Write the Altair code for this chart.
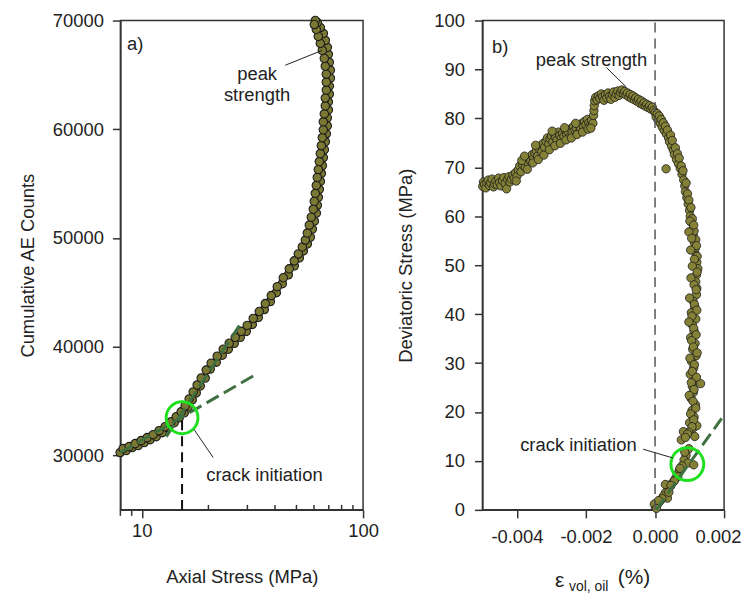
import altair as alt
import pandas as pd

FONT = "Liberation Sans"
FILL = "#858238"
FILL_A = "#7b7833"
EDGE = "#1c1c1c"
GREEN = "#1fe01f"
DGREEN = "#3f7040"
AXC = "#333333"
LFS = 18.5   # label font size
TFS = 18.5   # title font size

# ---------------- panel a) : cumulative AE counts vs axial stress ----------------
# centre of the band
axial_stress = [7.98, 8.49, 9.04, 9.62, 10.24, 10.90, 11.61, 12.35, 13.15, 14.00,
                14.75, 15.54, 16.20, 16.89, 17.61, 18.36, 19.34, 20.37, 21.69, 23.09,
                24.58, 26.16, 27.85, 29.65, 31.56, 33.60, 35.76, 38.07, 40.53, 43.14,
                45.92, 48.88, 51.50, 53.70, 55.98, 57.75, 58.97, 60.21, 61.48, 62.12,
                62.77, 63.43, 64.09, 64.76, 65.44, 66.12, 66.81, 67.51, 68.22, 68.93,
                68.93, 69.66, 69.66, 70.38, 70.38, 71.12, 71.12, 70.38, 69.66, 68.93,
                67.51, 66.12, 64.09, 62.12, 60.84]
ae_counts = [30274, 30457, 30731, 30913, 31187, 31461, 31735, 32100, 32557, 33014,
             33470, 33927, 34475, 35114, 35753, 36392, 37123, 37945, 38584, 39223,
             39771, 40319, 40867, 41415, 42054, 42693, 43424, 44155, 44976, 45798,
             46620, 47442, 48173, 48812, 49451, 50090, 50821, 51552, 52282, 53013,
             53743, 54474, 55204, 55935, 56665, 57396, 58127, 58857, 59588, 60318,
             61049, 61779, 62510, 63240, 63971, 64702, 65432, 66163, 66893, 67533,
             68172, 68811, 69359, 69816, 70000]
# upper-left edge of the band
axial_stress_2 = [8.23, 8.76, 9.33, 9.93, 10.57, 11.25, 11.97, 12.75, 13.57, 14.30,
                  15.06, 15.70, 16.37, 17.07, 17.79, 18.55, 19.54, 20.58, 21.92, 23.33,
                  24.83, 26.44, 28.14, 29.96, 31.89, 33.95, 36.14, 38.47, 40.95, 43.60,
                  46.40, 48.88, 50.97, 53.14, 54.83, 55.98, 57.15, 58.36, 59.58, 60.21,
                  60.84, 61.48, 62.12, 62.77, 63.43, 64.09, 64.76, 65.44, 66.12, 66.12,
                  66.81, 67.51, 67.51, 68.22, 68.22, 68.22, 67.51, 66.81, 65.44, 64.09,
                  62.77, 61.48, 60.21]
ae_counts_2 = [30639, 30822, 31096, 31370, 31644, 31918, 32283, 32648, 33105, 33561,
               34018, 34566, 35205, 35844, 36484, 37123, 37854, 38493, 39132, 39771,
               40319, 40867, 41415, 41963, 42602, 43241, 43972, 44703, 45524, 46346,
               47168, 47899, 48538, 49177, 49816, 50456, 51186, 51917, 52647, 53378,
               54108, 54839, 55570, 56300, 57031, 57761, 58492, 59222, 59953, 60684,
               61414, 62145, 62875, 63606, 64336, 65067, 65797, 66528, 67259, 67898,
               68537, 69176, 69633]

a_x_ticks = [10, 100]
a_y_ticks = [30000, 40000, 50000, 60000, 70000]
a_minor_in = [20, 30, 40, 50, 60, 70, 80, 90]
a_minor_out = [8, 9]

# tangent (dashed) lines in panel a
tan_x = [12.9, 27.6, 8.0, 33.6]
tan_y = [31735, 41960, 30274, 37580]
tan_id = ["steep", "steep", "shallow", "shallow"]

ci_a_stress, ci_a_ae = 15.2, 33470          # crack initiation, panel a
ci_a_rule_top = 33290

# ---------------- panel b) : deviatoric stress vs volumetric strain ----------------
eps_vol = [
    -0.00499, -0.00497, -0.00494, -0.00490, -0.00487, -0.00483, -0.00480, -0.00476, -0.00472, -0.00468,
    -0.00465, -0.00461, -0.00457, -0.00453, -0.00450, -0.00446, -0.00442, -0.00438, -0.00434, -0.00430,
    -0.00427, -0.00423, -0.00420, -0.00416, -0.00412,
    -0.00408, -0.00404, -0.00400, -0.00396, -0.00392, -0.00388, -0.00384, -0.00380, -0.00376, -0.00372,
    -0.00368, -0.00364, -0.00360, -0.00356, -0.00352, -0.00348, -0.00344, -0.00340, -0.00336, -0.00332,
    -0.00328, -0.00324, -0.00320, -0.00316, -0.00312, -0.00308, -0.00304, -0.00300, -0.00296, -0.00292,
    -0.00288, -0.00284, -0.00280, -0.00276, -0.00272, -0.00268, -0.00264, -0.00260, -0.00256, -0.00252,
    -0.00248, -0.00244, -0.00240, -0.00236, -0.00232, -0.00228, -0.00224, -0.00220, -0.00216, -0.00212,
    -0.00208, -0.00204, -0.00200, -0.00196, -0.00192, -0.00188, -0.00184, -0.00180,
    -0.00402, -0.00386, -0.00370, -0.00354, -0.00338, -0.00322, -0.00306, -0.00290, -0.00274, -0.00258,
    -0.00242, -0.00226, -0.00210, -0.00194, -0.00186, -0.00230, -0.00262, -0.00298, -0.00346, -0.00378,
    -0.00178, -0.00177, -0.00176, -0.00175, -0.00172,
    -0.00168, -0.00164, -0.00160, -0.00156, -0.00152, -0.00148, -0.00144, -0.00140, -0.00136, -0.00132,
    -0.00128, -0.00124, -0.00120, -0.00116, -0.00112, -0.00108, -0.00104, -0.00100, -0.00096, -0.00092,
    -0.00088, -0.00084, -0.00080, -0.00076, -0.00072, -0.00068, -0.00064, -0.00060, -0.00056, -0.00052,
    -0.00048, -0.00044, -0.00040, -0.00036, -0.00032, -0.00028, -0.00024, -0.00020, -0.00016, -0.00012,
    -0.00008, -0.00004,
    0.00000, 0.00003, 0.00006, 0.00009, 0.00012, 0.00015, 0.00018, 0.00021, 0.00024, 0.00027,
    0.00030, 0.00033, 0.00036, 0.00039, 0.00042, 0.00045, 0.00048, 0.00050, 0.00053, 0.00056,
    0.00059, 0.00062, 0.00065, 0.00068, 0.00070, 0.00073, 0.00076, 0.00078, 0.00081, 0.00083,
    0.00086, 0.00088, 0.00090, 0.00092, 0.00094, 0.00096, 0.00098, 0.00100, 0.00102, 0.00104,
    0.00106, 0.00108, 0.00109, 0.00111, 0.00113, 0.00114, 0.00116, 0.00118, 0.00119, 0.00121,
    0.00122, 0.00124, 0.00120, 0.00118, 0.00121, 0.00032,
    0.00120, 0.00110, 0.00115, 0.00105, 0.00118, 0.00108, 0.00113, 0.00103, 0.00116, 0.00109,
    0.00119, 0.00106, 0.00112, 0.00102, 0.00115, 0.00132, 0.00108, 0.00111, 0.00104, 0.00117,
    0.00107, 0.00113, 0.00100, 0.00110, 0.00121,
    0.00101, 0.00112, 0.00098, 0.00106, 0.00120, 0.00103, 0.00114, 0.00108, 0.00122, 0.00104,
    0.00113, 0.00119, 0.00100, 0.00114, 0.00121, 0.00107, 0.00098, 0.00112, 0.00119, 0.00106,
    0.00111, 0.00122, 0.00101, 0.00114, 0.00108, 0.00120, 0.00105, 0.00113, 0.00099, 0.00110,
    0.00118, 0.00103, 0.00112, 0.00107, 0.00097, 0.00115,
    0.00082, 0.00094, 0.00076, 0.00088, 0.00098, 0.00090, 0.00084, 0.00096, 0.00112, 0.00078,
    0.00070, 0.00064, 0.00058, 0.00050, 0.00044, 0.00037, 0.00030, 0.00024, 0.00018, 0.00012,
    0.00006, 0.00001, -0.00002, 0.00004, 0.00030, 0.00036,
    0.00066, 0.00056, 0.00046, 0.00040, 0.00072, 0.00086, 0.00020, 0.00010]
dev_stress = [
    66.1, 67.0, 66.5, 65.8, 66.9, 67.4, 66.3, 66.8, 67.6, 66.0,
    66.6, 67.2, 66.4, 67.8, 66.9, 66.2, 67.3, 67.9, 66.7, 65.6,
    67.5, 68.1, 67.0, 67.6, 68.4,
    67.8, 68.9, 68.2, 69.5, 70.3, 69.1, 70.6, 71.2, 70.0, 71.5,
    70.8, 72.0, 71.3, 72.6, 71.8, 72.9, 73.4, 72.3, 73.8, 74.4,
    73.2, 74.9, 74.1, 75.3, 76.0, 74.7, 75.8, 76.4, 75.2, 76.8,
    76.1, 75.6, 77.2, 76.5, 75.9, 77.0, 76.3, 77.6, 76.8, 77.3,
    76.1, 77.9, 77.2, 78.4, 77.6, 78.0, 76.9, 78.6, 77.8, 79.0,
    78.3, 79.4, 78.7, 79.8, 79.1, 78.5, 79.6, 79.0,
    67.2, 71.4, 69.6, 70.9, 71.6, 72.5, 73.6, 74.4, 74.9, 75.6,
    76.0, 76.7, 77.2, 77.8, 78.0, 79.0, 78.1, 77.4, 74.5, 72.3,
    80.6, 81.6, 82.6, 83.6, 84.3,
    83.8, 84.6, 84.1, 85.0, 84.4, 83.7, 84.8, 84.2, 85.2, 84.5,
    83.9, 84.9, 85.4, 84.3, 85.0, 85.6, 84.7, 85.3, 85.8, 85.1,
    85.5, 84.8, 85.2, 84.4, 84.9, 84.1, 84.6, 83.8, 84.2, 83.5,
    83.9, 83.1, 83.6, 82.8, 83.2, 82.5, 82.9, 82.2, 82.6, 81.9,
    82.3, 81.6,
    81.2, 80.3, 81.0, 79.6, 80.5, 79.0, 79.8, 78.2, 79.1, 77.5,
    78.4, 76.8, 77.6, 76.0, 75.2, 76.6, 74.3, 75.5, 73.5, 72.6,
    74.0, 71.6, 72.8, 70.7, 71.9, 69.8, 70.3, 68.6, 69.3, 67.4,
    66.2, 65.0, 66.8, 63.8, 64.6, 62.5, 63.3, 61.2, 60.0, 61.8,
    58.7, 59.5, 57.3, 56.0, 57.0, 54.6, 53.3, 55.2, 52.0, 50.6,
    51.8, 49.3, 48.0, 46.6, 45.3, 69.7,
    44.0, 42.7, 41.5, 40.3, 39.0, 37.8, 36.5, 35.2, 34.0, 32.8,
    31.5, 30.3, 29.0, 27.7, 26.5, 25.8, 25.2, 24.0, 22.8, 21.5,
    20.3, 19.0, 17.8, 16.7, 17.2,
    59.0, 58.2, 56.8, 55.5, 54.0, 53.1, 51.2, 49.8, 48.6, 47.4,
    46.0, 45.0, 43.3, 42.0, 40.8, 39.6, 38.4, 37.1, 35.8, 34.6,
    33.3, 32.1, 31.0, 29.7, 28.3, 27.1, 26.0, 24.6, 23.4, 22.2,
    20.8, 19.6, 18.4, 17.0, 15.9, 15.0,
    16.0, 15.5, 14.3, 14.8, 12.5, 11.2, 10.2, 9.6, 9.2, 9.0,
    8.0, 7.2, 6.3, 5.5, 4.8, 4.1, 3.5, 2.8, 2.1, 1.6,
    1.0, 0.6, 1.2, 0.3, 5.2, 2.4,
    6.8, 5.9, 5.0, 3.6, 8.5, 11.8, 2.3, 1.9]

b_x_ticks = [-0.004, -0.002, 0.0, 0.002]
b_y_ticks = [0, 10, 20, 30, 40, 50, 60, 70, 80, 90, 100]

btan_x = [0.00003, 0.00193]
btan_y = [0.0, 18.7]
ci_b_eps, ci_b_dev = 0.000935, 9.35

W, H = 244, 492

# ================= panel a =================
XA = alt.X("stress:Q",
           scale=alt.Scale(type="log", domain=[8, 100], nice=False),
           axis=alt.Axis(values=a_x_ticks, format="d", title="Axial Stress (MPa)",
                         tickSize=8, labelPadding=4, titlePadding=28,
                         labelFlush=False, labelOverlap=False))
YA = alt.Y("ae:Q",
           scale=alt.Scale(domain=[25000, 70000], nice=False, zero=False),
           axis=alt.Axis(values=a_y_ticks, format="d", title="Cumulative AE Counts",
                         tickSize=8, labelPadding=9, titlePadding=15,
                         labelFlush=False, labelOverlap=False))

dfa = pd.DataFrame({"stress": axial_stress + axial_stress_2, "ae": ae_counts + ae_counts_2})
pts_a = alt.Chart(dfa).mark_circle(size=72, color=FILL_A, stroke=EDGE, strokeWidth=1.1,
                                   opacity=1).encode(x=XA, y=YA)

tan_df = pd.DataFrame({"stress": tan_x, "ae": tan_y, "id": tan_id})
tan_a = alt.Chart(tan_df).mark_line(color=DGREEN, strokeWidth=3, strokeDash=[14, 6]).encode(
    x=XA, y=YA, detail="id:N")

vrule_a = alt.Chart(pd.DataFrame({"stress": [ci_a_stress], "ae": [25000], "ae2": [ci_a_rule_top]})
                    ).mark_rule(color="#111", strokeWidth=2, strokeDash=[10, 6]).encode(
    x=XA, y=YA, y2="ae2:Q")

circ_a = alt.Chart(pd.DataFrame({"stress": [ci_a_stress], "ae": [ci_a_ae]})).mark_point(
    shape="circle", size=1024, filled=False, color=GREEN, strokeWidth=3, opacity=1).encode(x=XA, y=YA)

lead_a = alt.Chart(pd.DataFrame({"stress": [44.5, 65.4, 21.0, 17.25],
                                 "ae": [65889, 67259, 29817, 32374],
                                 "id": ["p", "p", "c", "c"]})).mark_line(
    color="#222", strokeWidth=1).encode(x=XA, y=YA, detail="id:N")

txt_a = alt.Chart(pd.DataFrame({"stress": [33.2, 33.2], "ae": [65067, 63149],
                                "t": ["peak", "strength"]})).mark_text(
    font=FONT, fontSize=18.5, color="#222", align="center", baseline="middle").encode(
    x=XA, y=YA, text="t:N")
txt_a2 = alt.Chart(pd.DataFrame({"stress": [19.54, 8.58], "ae": [28174, 67806],
                                 "t": ["crack initiation", "a)"]})).mark_text(
    font=FONT, fontSize=18.5, color="#222", align="left", baseline="middle").encode(
    x=XA, y=YA, text="t:N")

minor_in = alt.Chart(pd.DataFrame({"stress": a_minor_in})).mark_rule(
    color=AXC, strokeWidth=1.5).encode(x=XA, y=alt.value(H - 5), y2=alt.value(H))
minor_out = alt.Chart(pd.DataFrame({"stress": a_minor_out})).mark_rule(
    color=AXC, strokeWidth=1.5).encode(x=XA, y=alt.value(H), y2=alt.value(H + 6))

panel_a = alt.layer(pts_a, tan_a, vrule_a, circ_a, lead_a, txt_a, txt_a2, minor_in, minor_out
                    ).properties(width=W, height=H)

# ================= panel b =================
XB = alt.X("eps:Q", scale=alt.Scale(domain=[-0.005, 0.002], nice=False, zero=False),
           axis=alt.Axis(values=b_x_ticks, title=None, tickSize=8, labelPadding=10,
                         labelFlush=True, labelFlushOffset=17, labelOverlap=False,
                         labelExpr="replace(format(datum.value, '.3f'), '\u2212', '-')"))
YB = alt.Y("dev:Q", scale=alt.Scale(domain=[0, 100], nice=False),
           axis=alt.Axis(values=b_y_ticks, title="Deviatoric Stress (MPa)", format="d",
                         tickSize=8, labelPadding=10, titlePadding=18,
                         labelFlush=False, labelOverlap=False))

dfb = pd.DataFrame({"eps": eps_vol, "dev": dev_stress})
pts_b = alt.Chart(dfb).mark_circle(size=70, color=FILL, stroke=EDGE, strokeWidth=0.8,
                                   opacity=1).encode(x=XB, y=YB)

zero_b = alt.Chart(pd.DataFrame({"eps": [0.0], "dev": [0.0], "dev2": [100.0]})).mark_rule(
    color="#555", strokeWidth=1.5, strokeDash=[10, 6]).encode(x=XB, y=YB, y2="dev2:Q")

tan_b = alt.Chart(pd.DataFrame({"eps": btan_x, "dev": btan_y})).mark_line(
    color=DGREEN, strokeWidth=3, strokeDash=[14, 6]).encode(x=XB, y=YB)

circ_b = alt.Chart(pd.DataFrame({"eps": [ci_b_eps], "dev": [ci_b_dev]})).mark_point(
    shape="circle", size=1089, filled=False, color=GREEN, strokeWidth=3, opacity=1).encode(x=XB, y=YB)

lead_b = alt.Chart(pd.DataFrame({"eps": [-0.00141, -0.00083, -0.000345, 0.00052],
                                 "dev": [90.4, 86.4, 12.4, 10.6],
                                 "id": ["p", "p", "c", "c"]})).mark_line(
    color="#222", strokeWidth=1).encode(x=XB, y=YB, detail="id:N")

txt_b = alt.Chart(pd.DataFrame({"eps": [-0.00184, -0.00222], "dev": [91.9, 13.2],
                                "t": ["peak strength", "crack initiation"]})).mark_text(
    font=FONT, fontSize=18.5, color="#222", align="center", baseline="middle").encode(
    x=XB, y=YB, text="t:N")
txt_b2 = alt.Chart(pd.DataFrame({"eps": [-0.00472], "dev": [94.5], "t": ["b)"]})).mark_text(
    font=FONT, fontSize=18.5, color="#222", align="left", baseline="middle").encode(
    x=XB, y=YB, text="t:N")

one = pd.DataFrame({"k": [0]})
eps_t = alt.Chart(one).mark_text(font=FONT, fontSize=21, color="#222", align="left",
                                 baseline="middle").encode(
    x=alt.value(73), y=alt.value(H + 72), text=alt.value("ε"))
sub_t = alt.Chart(one).mark_text(font=FONT, fontSize=14, color="#222", align="left",
                                 baseline="middle").encode(
    x=alt.value(87), y=alt.value(H + 78), text=alt.value("vol, oil"))
pct_t = alt.Chart(one).mark_text(font=FONT, fontSize=21, color="#222", align="left",
                                 baseline="middle").encode(
    x=alt.value(136), y=alt.value(H + 69), text=alt.value("(%)"))

panel_b = alt.layer(pts_b, zero_b, tan_b, circ_b, lead_b, txt_b, txt_b2, eps_t, sub_t, pct_t
                    ).properties(width=243, height=H)

chart = alt.hconcat(panel_a, panel_b, spacing=16).properties(
    padding={"left": 9, "top": 1, "right": 0, "bottom": 0}
).configure_view(stroke=AXC, strokeWidth=1.5).configure_axis(
    labelFont=FONT, titleFont=FONT, labelFontSize=LFS, titleFontSize=TFS,
    titleFontWeight="normal", labelColor="#222", titleColor="#222",
    domainColor=AXC, tickColor=AXC, domainWidth=1.5, tickWidth=1.5, grid=False)

chart.save("out.html", embed_options={"renderer": "svg", "actions": False})
